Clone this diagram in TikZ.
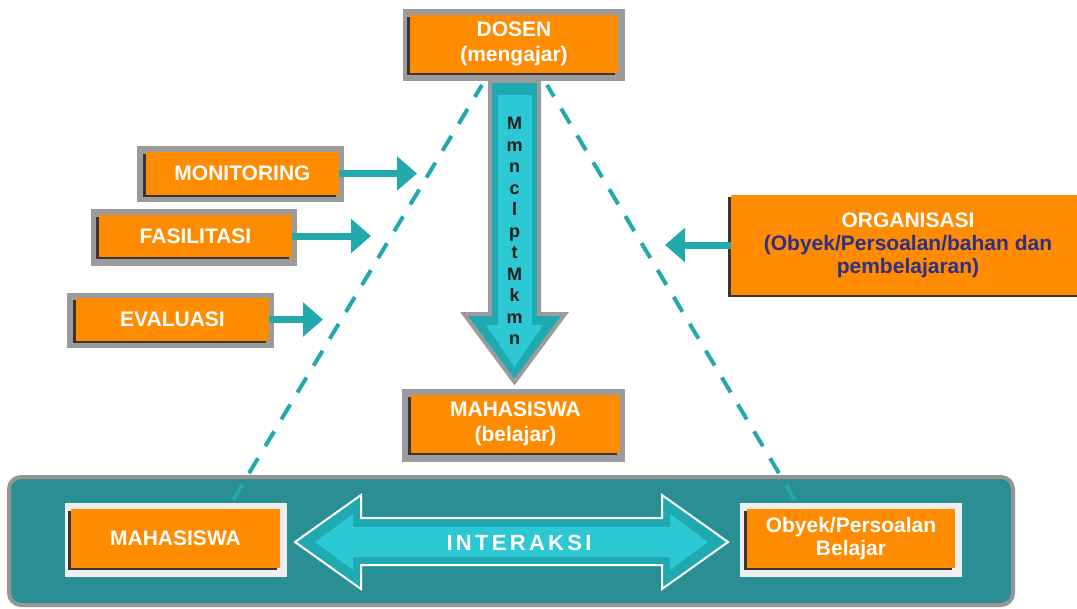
\documentclass[tikz,border=0pt]{standalone}
\usepackage{fontspec}
\setmainfont{Liberation Sans}
\usetikzlibrary{arrows.meta,shadows}
\definecolor{org}{HTML}{FF8C00}
\definecolor{framegray}{HTML}{9B9B9B}
\definecolor{lightframe}{HTML}{EFEFEF}
\definecolor{shadowc}{HTML}{3A3535}
\definecolor{tealc}{HTML}{22A9AD}
\definecolor{tealband}{HTML}{1FA9B1}
\definecolor{cyanin}{HTML}{2CC8D3}
\definecolor{panelc}{HTML}{2A8F94}
\definecolor{panelborder}{HTML}{959595}
\definecolor{navy}{HTML}{2E3087}
\definecolor{lettc}{HTML}{231F20}
\begin{document}
\begin{tikzpicture}[x=0.75pt,y=-0.75pt,
  frame/.style={fill=framegray,draw=none,inner sep=0pt},
  lframe/.style={fill=lightframe,draw=none,inner sep=0pt},
  obox/.style={fill=org,draw=none,inner sep=0pt,text=white,align=center,
    font=\bfseries\fontsize{15.75}{18.75}\selectfont,
    drop shadow={shadow xshift=-2.25pt,shadow yshift=-1.5pt,fill=shadowc,opacity=1}},
  conn/.style={draw=tealc,line width=5.25pt,-{Triangle[length=15pt,width=25pt]}},
  dashline/.style={draw=tealc,line width=3pt,dash pattern=on 13pt off 10.5pt}]
\path[use as bounding box] (0,0) rectangle (1077,608);

% dashed triangle sides
\coordinate (dlt) at (482,85);
\coordinate (dlb) at (233,500);
\coordinate (drt) at (547,85);
\coordinate (drb) at (795,500);

% bottom panel
\draw[line width=3pt,draw=panelborder,fill=panelc,rounded corners=9pt] (9,477) rectangle (1013,605);

\draw[dashline] (dlb) -- (dlt);
\draw[dashline] (drb) -- (drt);

% DOSEN
\node[frame,minimum width=166.5pt,minimum height=54pt] (dosenF) at (514,45) {};
\node[obox,minimum width=156pt,minimum height=43.5pt] (dosen) at (514,44) {DOSEN\\(mengajar)};

% vertical block arrow
\draw[draw=framegray,line width=3pt,line join=miter,fill=tealband]
  (490,81) -- (539,81) -- (539,314) -- (565,314) -- (514.5,382) -- (464,314) -- (490,314) -- cycle;
\fill[cyanin] (498,95) -- (532,95) -- (532,325) -- (543,325) -- (514.5,367) -- (486,325) -- (498,325) -- cycle;
\node[text=lettc,align=center,inner sep=0pt,font=\bfseries\fontsize{13.5}{16.1}\selectfont] (letters) at (514.5,231)
  {M\\m\\n\\c\\l\\p\\t\\M\\k\\m\\n};

% MAHASISWA (belajar)
\node[frame,minimum width=167.25pt,minimum height=54.75pt] (mhsF) at (513.5,425.5) {};
\node[obox,minimum width=156.75pt,minimum height=43.5pt] (mhs) at (515.5,424) {MAHASISWA\\(belajar)};

% left boxes
\node[frame,minimum width=155.25pt,minimum height=42pt] (monF) at (240.5,174) {};
\node[obox,minimum width=144.75pt,minimum height=32.25pt] (mon) at (242.5,173.5) {MONITORING};
\node[frame,minimum width=154.5pt,minimum height=42.75pt] (fasF) at (194,237.5) {};
\node[obox,minimum width=144.75pt,minimum height=31.5pt] (fas) at (195.5,236) {FASILITASI};
\node[frame,minimum width=155.25pt,minimum height=41.25pt] (evaF) at (170.5,320.5) {};
\node[obox,minimum width=144.75pt,minimum height=32.25pt] (eva) at (172.5,319.5) {EVALUASI};

\coordinate (monT) at (417,173.5);
\coordinate (fasT) at (371,236);
\coordinate (evaT) at (323,319.5);
\draw[conn] (mon.east) -- (monT);
\draw[conn] (fas.east) -- (fasT);
\draw[conn] (eva.east) -- (evaT);

% ORGANISASI
\node[obox,text=navy,minimum width=265.5pt,minimum height=75pt,font=\bfseries\fontsize{15.75}{17.25}\selectfont] (org) at (908,245)
  {\textcolor{white}{ORGANISASI}\\(Obyek/Persoalan/bahan dan\\pembelajaran)};
\coordinate (orgT) at (665,245);
\draw[conn] (org.west) -- (orgT);

% bottom boxes
\node[lframe,minimum width=166.5pt,minimum height=55.5pt] (bmF) at (176,540) {};
\node[obox,minimum width=156.75pt,minimum height=44.25pt] (bm) at (175.5,538.5) {MAHASISWA};
\node[lframe,minimum width=166.5pt,minimum height=55.5pt] (boF) at (851,540) {};
\node[obox,minimum width=156pt,minimum height=44.25pt,font=\bfseries\fontsize{15.75}{17.25}\selectfont] (bo) at (851,538.5) {Obyek/Persoalan\\Belajar};

% double arrow INTERAKSI
\draw[draw=white,line width=1.5pt,line join=miter,fill=tealband]
  (295,542) -- (361,495) -- (361,518) -- (662,518) -- (662,495) -- (728,542) -- (662,589) -- (662,565) -- (361,565) -- (361,589) -- cycle;
\fill[cyanin] (315,542) -- (353,514) -- (353,527) -- (670,527) -- (670,514) -- (708,542) -- (670,570) -- (670,557) -- (353,557) -- (353,570) -- cycle;
\node[text=white,inner sep=0pt,font=\bfseries\fontsize{16.5}{18}\selectfont\addfontfeature{LetterSpace=15}] (inter) at (519,543) {INTERAKSI};

\end{tikzpicture}
\end{document}
